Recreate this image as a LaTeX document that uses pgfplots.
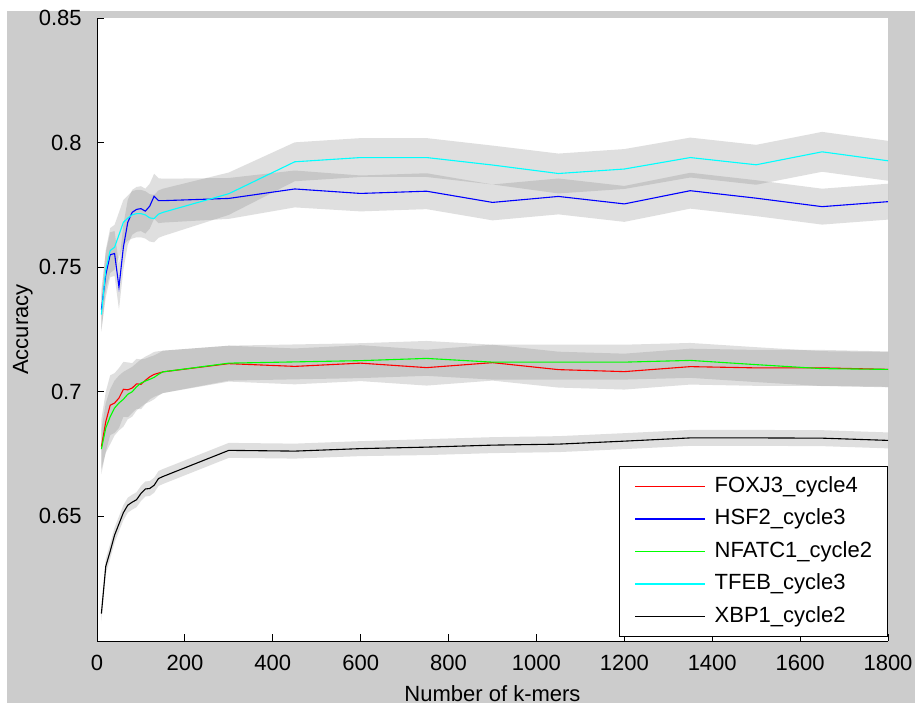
\documentclass[border=0pt]{standalone}
\usepackage{fontspec}
\setmainfont{Liberation Sans}
\usepackage{pgfplots}
\pgfplotsset{compat=1.18}
\usepackage{pgfplotstable}
\usepgfplotslibrary{fillbetween}

\definecolor{figbg}{RGB}{204,204,204}
\definecolor{mred}{RGB}{255,0,0}
\definecolor{mblue}{RGB}{0,0,255}
\definecolor{mgreen}{RGB}{0,255,0}
\definecolor{mcyan}{RGB}{0,255,255}

% extra bottom layer for the grey figure background
\pgfplotsset{
  layers/figlayers/.define layer set={
    figbg,axis background,axis grid,axis ticks,axis lines,axis tick labels,
    pre main,main,axis descriptions,axis foreground}{/pgfplots/layers/standard},
}

% x = number of k-mers, y = mean accuracy, e = half width of the shaded band
\pgfplotstableread{
x y e
10 0.678 0.011
20 0.688 0.012
30 0.6946 0.012
40 0.6955 0.012
50 0.6975 0.012
60 0.701 0.011
70 0.7008 0.011
80 0.7015 0.010
90 0.7032 0.010
100 0.703 0.010
110 0.7046 0.0095
120 0.706 0.009
130 0.707 0.009
140 0.7075 0.0088
150 0.708 0.0085
300 0.7113 0.0072
450 0.7102 0.0072
600 0.7115 0.0072
750 0.7097 0.0072
900 0.7117 0.0072
1050 0.7089 0.0072
1200 0.7081 0.0072
1350 0.7101 0.0072
1500 0.7096 0.0072
1650 0.7096 0.0072
1800 0.709 0.0072
}\foxj

\pgfplotstableread{
x y e
10 0.733 0.008
20 0.747 0.009
30 0.755 0.009
40 0.7555 0.009
50 0.742 0.009
60 0.758 0.009
70 0.768 0.009
80 0.772 0.009
90 0.7732 0.009
100 0.7735 0.009
110 0.7725 0.009
120 0.7745 0.009
130 0.7785 0.009
140 0.7767 0.009
150 0.7767 0.0088
300 0.7776 0.0082
450 0.7814 0.0074
600 0.7796 0.0072
750 0.7805 0.0072
900 0.776 0.0072
1050 0.7784 0.0072
1200 0.7754 0.0072
1350 0.7807 0.0072
1500 0.7777 0.0072
1650 0.7743 0.0072
1800 0.7763 0.0072
}\hsf

\pgfplotstableread{
x y e
10 0.677 0.008
20 0.6855 0.010
30 0.690 0.011
40 0.6935 0.011
50 0.6955 0.011
60 0.697 0.011
70 0.699 0.010
80 0.700 0.010
90 0.702 0.0095
100 0.7035 0.0095
110 0.7043 0.009
120 0.705 0.009
130 0.7058 0.0088
140 0.707 0.0085
150 0.708 0.0085
300 0.7115 0.007
450 0.712 0.007
600 0.7125 0.007
750 0.7134 0.007
900 0.7119 0.007
1050 0.7119 0.007
1200 0.7119 0.007
1350 0.7126 0.007
1500 0.7109 0.007
1650 0.7093 0.007
1800 0.709 0.007
}\nfatc

\pgfplotstableread{
x y e
10 0.731 0.007
20 0.749 0.008
30 0.7567 0.009
40 0.758 0.009
50 0.763 0.009
60 0.768 0.009
70 0.7697 0.009
80 0.771 0.0095
90 0.7715 0.0095
100 0.7715 0.0095
110 0.771 0.0095
120 0.7698 0.0095
130 0.7695 0.0095
140 0.7713 0.0095
150 0.772 0.0095
300 0.7795 0.0085
450 0.7923 0.0078
600 0.794 0.0078
750 0.794 0.0078
900 0.791 0.0078
1050 0.7876 0.008
1200 0.7894 0.008
1350 0.794 0.008
1500 0.7911 0.008
1650 0.7963 0.008
1800 0.7927 0.008
}\tfeb

\pgfplotstableread{
x y e
10 0.611 0.003
20 0.630 0.003
30 0.636 0.003
40 0.6425 0.003
50 0.647 0.003
60 0.6515 0.003
70 0.6545 0.003
80 0.6557 0.003
90 0.6567 0.003
100 0.6592 0.003
110 0.661 0.003
120 0.6612 0.003
130 0.6625 0.003
140 0.6652 0.003
150 0.666 0.003
300 0.6765 0.003
450 0.6762 0.003
600 0.6772 0.003
750 0.6778 0.0032
900 0.6786 0.0032
1050 0.679 0.0032
1200 0.6802 0.0032
1350 0.6815 0.0032
1500 0.6815 0.0032
1650 0.6814 0.0032
1800 0.6805 0.0032
}\xbp

% shaded band: #1 table, #2 path name
\newcommand{\band}[2]{%
  \addplot[draw=none, forget plot, name path=#2u] table[x=x, y expr=\thisrow{y}+\thisrow{e}] {#1};
  \addplot[draw=none, forget plot, name path=#2l] table[x=x, y expr=\thisrow{y}-\thisrow{e}] {#1};
  \addplot[forget plot, draw=none, fill=black!50, fill opacity=0.25] fill between[of=#2u and #2l];
}

\begin{document}
\begin{tikzpicture}[font=\fontsize{11}{13}\selectfont]
\begin{axis}[
  set layers=figlayers,
  clip mode=individual,
  at={(0pt,0pt)}, anchor=south west,
  scale only axis, width=395.5pt, height=311.5pt,
  xmin=0, xmax=1800, ymin=0.6, ymax=0.85,
  axis lines=left,
  axis line style={-, line width=0.5pt},
  axis background/.style={fill=white},
  xtick={0,200,...,1800},
  ytick={0.65,0.7,0.75,0.8,0.85},
  tick align=inside,
  major tick length=3.5pt,
  tick style={black, line width=0.5pt},
  scaled ticks=false,
  /pgf/number format/assume math mode=true,
  /pgf/number format/1000 sep={},
  yticklabel style={/pgf/number format/fixed, inner sep=0pt, xshift=-7.5pt},
  xticklabel style={inner sep=0pt, yshift=-7pt},
  every axis x label/.style={at={(axis description cs:0.5,-0.085)}, anchor=center},
  every axis y label/.style={at={(axis description cs:-0.0936,0.5)}, rotate=90, anchor=center},
  xlabel={Number of k-mers},
  ylabel={Accuracy},
  legend style={at={(rel axis cs:1,0.0064)}, anchor=south east,
    draw=black, line width=0.5pt, fill=white,
    inner xsep=7.75pt, inner ysep=4.75pt, row sep=5.75pt, column sep=4.5pt,
    nodes={inner sep=0pt, text height=8pt, text depth=2.5pt}},
  legend cell align=left,
  legend image code/.code={\draw[#1] (0pt,0pt) -- (35pt,0pt);},
]
\begin{pgfonlayer}{figbg}
  \fill[white] ([xshift=-48.5pt,yshift=-33pt]rel axis cs:0,0) rectangle ([xshift=409pt,yshift=320.5pt]rel axis cs:0,0);
  \fill[figbg] ([xshift=-45pt,yshift=-31pt]rel axis cs:0,0) rectangle ([xshift=409pt,yshift=315pt]rel axis cs:0,0);
\end{pgfonlayer}

\band{\foxj}{fo}
\band{\hsf}{hs}
\band{\nfatc}{nf}
\band{\tfeb}{tf}
\band{\xbp}{xb}

\addplot[mred, line width=0.55pt] table[x=x, y=y] {\foxj};
\addplot[mblue, line width=0.55pt] table[x=x, y=y] {\hsf};
\addplot[mgreen, line width=0.55pt] table[x=x, y=y] {\nfatc};
\addplot[mcyan, line width=0.55pt] table[x=x, y=y] {\tfeb};
\addplot[black, line width=0.55pt] table[x=x, y=y] {\xbp};
\legend{FOXJ3\_cycle4, HSF2\_cycle3, NFATC1\_cycle2, TFEB\_cycle3, XBP1\_cycle2}
\end{axis}
\pgfresetboundingbox
\path[use as bounding box] (-48.5pt,-33pt) rectangle (409pt,320.5pt);
\end{tikzpicture}
\end{document}
